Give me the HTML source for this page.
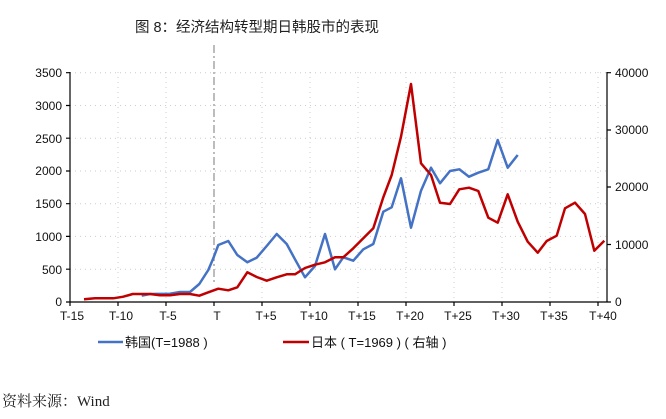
<!DOCTYPE html>
<html><head><meta charset="utf-8"><style>
body{margin:0;background:#fff;}
svg text{font-family:"Liberation Sans","Noto Sans CJK SC",sans-serif;}
</style></head><body>
<svg width="666" height="414" viewBox="0 0 666 414" xmlns="http://www.w3.org/2000/svg">
<rect width="666" height="414" fill="#fff"/>
<text x="257" y="32" font-size="14.5" text-anchor="middle" fill="#222">图 8：经济结构转型期日韩股市的表现</text>
<g stroke="#ccc" stroke-width="1" stroke-dasharray="1,4">
<line x1="70" y1="72.7" x2="607" y2="72.7"/><line x1="70" y1="105.5" x2="607" y2="105.5"/>
<line x1="70" y1="138.2" x2="607" y2="138.2"/><line x1="70" y1="171" x2="607" y2="171"/>
<line x1="70" y1="203.7" x2="607" y2="203.7"/><line x1="70" y1="236.4" x2="607" y2="236.4"/>
<line x1="70" y1="269.2" x2="607" y2="269.2"/>
<line x1="118" y1="72" x2="118" y2="302"/><line x1="166" y1="72" x2="166" y2="302"/>
<line x1="262" y1="72" x2="262" y2="302"/><line x1="310" y1="72" x2="310" y2="302"/>
<line x1="358" y1="72" x2="358" y2="302"/><line x1="406" y1="72" x2="406" y2="302"/>
<line x1="454" y1="72" x2="454" y2="302"/><line x1="502" y1="72" x2="502" y2="302"/>
<line x1="550" y1="72" x2="550" y2="302"/><line x1="598" y1="72" x2="598" y2="302"/>
</g>
<line x1="214" y1="45" x2="214" y2="282" stroke="#999" stroke-width="1.3" stroke-dasharray="8,3,2,3"/>
<g stroke="#000" stroke-width="1.2" fill="none">
<line x1="70" y1="72" x2="70" y2="302"/><line x1="607" y1="72" x2="607" y2="302"/>
<line x1="70" y1="302" x2="607" y2="302"/>
<path d="M66 72.7H70M66 105.5H70M66 138.2H70M66 171H70M66 203.7H70M66 236.4H70M66 269.2H70M66 302H70"/>
<path d="M607 72.7H611M607 130H611M607 187H611M607 244.5H611M607 302H611"/>
<path d="M70 302V306M118 302V306M166 302V306M214 302V306M262 302V306M310 302V306M358 302V306M406 302V306M454 302V306M502 302V306M550 302V306M598 302V306"/>
</g>
<g font-size="12" fill="#111" text-anchor="end">
<text x="62" y="77">3500</text><text x="62" y="110">3000</text><text x="62" y="143">2500</text>
<text x="62" y="175">2000</text><text x="62" y="208">1500</text><text x="62" y="241">1000</text>
<text x="62" y="274">500</text><text x="62" y="306">0</text>
</g>
<g font-size="12" fill="#111">
<text x="615" y="77">40000</text><text x="615" y="134">30000</text><text x="615" y="191">20000</text>
<text x="615" y="249">10000</text><text x="615" y="306">0</text>
</g>
<g font-size="12" fill="#111" text-anchor="middle">
<text x="72" y="320">T-15</text><text x="121" y="320">T-10</text><text x="168" y="320">T-5</text>
<text x="217" y="320">T</text><text x="266" y="320">T+5</text><text x="314" y="320">T+10</text>
<text x="362" y="320">T+15</text><text x="410" y="320">T+20</text><text x="458" y="320">T+25</text>
<text x="506" y="320">T+30</text><text x="554" y="320">T+35</text><text x="603" y="320">T+40</text>
</g>
<polyline fill="none" stroke="#4472C4" stroke-width="2.5" stroke-linejoin="round" points="141.7,295.7 150,294 170,293.7 180,292 190,292 199.3,284 208.3,270 213.3,258.3 218.3,245 228.3,241 237.3,255 247.3,262.3 256.7,257.7 266.7,246 276.7,234 286.7,244 295,259.3 305,277.3 315,266 325,234 335,269.3 343.3,257.3 353.3,260.7 363.3,249.3 373.3,244 383.3,211.7 391.7,207.3 401,178.3 411,227.7 421,190.7 431,167.7 440,183.3 450,171 459.3,169.3 469,176.7 478.3,172.7 488.3,169.3 497.7,140 507.7,167.7 517.7,155"/>
<polyline fill="none" stroke="#C00000" stroke-width="2.5" stroke-linejoin="round" points="84,299.3 95,298.3 113.3,298.3 123.3,296.7 132.7,294 150,294 160,295.3 170,295.3 180,294 190,294 199.3,295.7 208.3,292.3 218.3,288.7 228.3,290.3 237.3,287.3 247.3,272.3 256.7,277 266.7,280.7 276.7,277.3 286.7,274.3 295,274.3 305,268 315,264.7 325,262.3 335,257.3 343.3,257.3 353.3,248.3 363.3,238.3 373.3,228.3 383.3,197.3 391.7,175 401,136.7 411,84 421,163.3 431,175 440,202.7 450,204 459.3,189.3 469,187.7 478.3,191 488.3,217.7 497.7,222.7 507.7,194.3 517.7,221.7 527.7,241.7 537.7,252.7 546.7,241 556.7,235.7 565,208.3 575,202.7 585,214 594.3,250.7 604.3,240.7"/>
<line x1="98" y1="342" x2="123" y2="342" stroke="#4472C4" stroke-width="2.5"/>
<text x="125" y="347" font-size="13" fill="#111">韩国(T=1988 )</text>
<line x1="283" y1="342" x2="309" y2="342" stroke="#C00000" stroke-width="2.5"/>
<text x="311" y="347" font-size="13" fill="#111">日本 ( T=1969 ) ( 右轴 )</text>
<text x="2" y="406" font-size="15" fill="#222" style="font-family:'Liberation Serif','Noto Serif CJK SC',serif">资料来源：Wind</text>
</svg>
</body></html>
